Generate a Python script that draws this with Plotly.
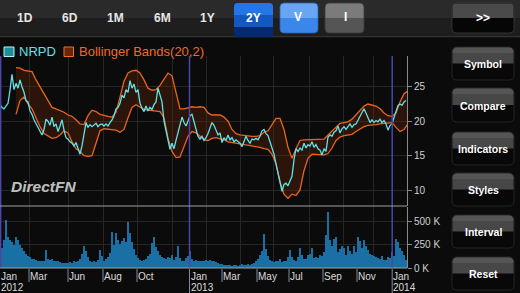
import plotly.graph_objects as go

W, H = 520, 293
FONT = "Liberation Sans, Arial, Helvetica, sans-serif"

# ---------------- data ----------------
# price sampled per trading-step index
PRICE = [
    22.4, 22.0, 21.8, 22.3, 22.6, 24.5, 26.8, 24.6, 25.5, 24.8,
    26.0, 25.0, 24.2, 23.0, 22.8, 21.5, 21.0, 20.2, 19.6, 19.0,
    18.5, 18.0, 18.8, 20.3, 20.0, 19.4, 20.6, 19.2, 19.6, 18.5,
    19.3, 20.2, 18.7, 17.6, 17.4, 17.0, 16.8, 16.4, 16.9, 16.0,
    15.2, 16.4, 18.0, 19.8, 19.1, 19.5, 19.2, 19.5, 19.7, 19.2,
    19.5, 19.6, 19.3, 19.6, 19.3, 19.8, 20.2, 20.8, 21.8, 22.0,
    22.6, 23.8, 23.4, 24.6, 24.2, 25.9, 24.8, 25.4, 24.2, 24.6,
    22.6, 21.9, 21.4, 22.2, 21.5, 22.0, 21.7, 22.4, 22.8, 24.8,
    23.6, 22.8, 20.0, 18.6, 16.8, 15.9, 16.8, 16.0, 17.2, 18.5,
    19.4, 20.6, 19.8, 19.3, 20.0, 20.8, 21.0, 19.8, 18.6, 17.8,
    17.4, 17.8, 17.2, 17.6, 18.2, 19.0, 19.8, 19.4, 18.7, 18.0,
    18.3, 16.9, 17.6, 17.2, 18.0, 17.3, 17.6, 17.0, 17.3, 17.1,
    16.8, 16.3, 17.0, 17.8, 17.2, 16.8, 17.4, 17.3, 17.5, 17.3,
    17.8, 18.6, 18.8, 18.2, 17.9, 17.0, 16.2, 15.2, 13.8, 12.5,
    10.8, 9.8, 10.8, 11.0, 10.6, 11.2, 12.0, 14.4, 16.0, 15.6,
    16.1, 15.8, 16.8, 16.1, 16.6, 16.4, 17.0, 16.2, 16.6, 16.0,
    15.8, 15.1, 16.0, 15.6, 17.7, 18.0, 17.8, 18.4, 18.6, 19.3,
    18.3, 18.9, 19.2, 18.8, 19.3, 19.6, 19.1, 19.5, 19.6, 20.2,
    20.6, 21.2, 21.8, 21.2, 20.6, 19.8, 20.2, 19.8, 20.1, 19.9,
    20.3, 19.8, 20.1, 19.6, 18.7, 19.4, 19.6, 20.5, 21.6, 22.3,
    22.5, 22.3, 22.8, 23.0,
]

# Bollinger bands, one value every second step
UPPER = [
    None, None, None, None, 27.8, 27.7, 27.4, 27.3, 27.2, 26.0,
    25.0, 24.0, 22.8, 22.0, 21.8, 21.6, 21.3, 20.9, 20.7, 20.2,
    19.6, 19.5, 20.8, 21.6, 21.4, 21.0, 20.8, 20.7, 20.6, 21.3,
    23.5, 25.8, 27.0, 27.3, 27.4, 27.0, 26.0, 24.8, 24.5, 24.6,
    25.2, 26.2, 27.0, 26.6, 24.0, 21.8, 21.8, 22.0, 22.1, 22.0,
    22.1, 22.0, 21.2, 20.9, 20.9, 20.9, 20.6, 20.0, 18.8, 18.2,
    18.0, 17.9, 17.9, 17.8, 17.8, 17.9, 18.4, 18.6, 19.5, 20.4,
    20.4, 18.8, 16.2, 14.6, 16.0, 17.2, 17.3, 17.3, 17.3, 17.3,
    17.3, 17.4, 18.0, 18.6, 19.2, 19.7, 19.8, 19.9, 20.3, 20.9,
    21.6, 22.2, 22.5, 22.4, 22.2, 21.8, 21.2, 20.8, 20.7, 21.2,
    22.8, 24.0, 24.4,
]
LOWER = [
    None, None, None, None, 21.0, 23.0, 23.5, 22.5, 21.8, 20.5,
    19.2, 18.2, 17.8, 17.5, 17.6, 18.0, 18.6, 18.3, 17.0, 16.0,
    15.6, 15.0, 14.9, 15.0, 16.8, 18.6, 18.9, 18.8, 18.8, 18.7,
    18.4, 18.8, 20.5, 22.0, 22.4, 22.0, 21.7, 21.6, 21.5, 21.4,
    21.4, 20.5, 17.5, 15.6, 14.7, 14.8, 16.3, 17.8, 18.5, 18.3,
    17.8, 17.3, 17.2, 17.5, 17.6, 17.5, 17.3, 17.0, 16.9, 16.8,
    16.8, 16.6, 16.5, 16.4, 16.3, 16.2, 16.0, 15.9, 15.2, 13.8,
    11.2, 9.4, 8.8, 9.4, 9.2, 10.0, 12.8, 14.6, 15.2, 15.2,
    15.1, 15.1, 15.3, 16.1, 17.2, 17.7, 17.9, 18.0, 18.1, 18.5,
    18.9, 19.2, 19.4, 19.4, 19.5, 19.6, 19.7, 19.8, 19.8, 19.1,
    18.5, 18.8, 19.6,
]

# volume in thousands, one per price step
VOLUME_K = [
    240, 220, 300, 520, 330, 300, 280, 250, 330, 300,
    250, 220, 180, 150, 130, 120, 100, 95, 85, 75,
    70, 75, 80, 190, 100, 85, 95, 75, 70, 80,
    60, 55, 50, 55, 50, 60, 55, 70, 65, 80,
    100, 150, 240, 180, 120, 80, 65, 75, 60, 90,
    190, 130, 80, 100, 120, 160, 390, 250, 380, 300,
    260, 290, 320, 280, 490, 380, 280, 200, 140, 110,
    90, 80, 90, 100, 130, 150, 270, 330, 230, 180,
    140, 120, 110, 100, 120, 110, 140, 90, 120, 240,
    110, 80, 70, 110, 130, 180, 100, 80, 90, 70,
    80, 75, 70, 85, 75, 90, 80, 70, 60, 50,
    45, 40, 35, 30, 35, 30, 25, 30, 28, 25,
    35, 40, 30, 28, 40, 35, 45, 50, 70, 100,
    140, 180, 370, 200, 130, 90, 70, 60, 80, 70,
    95, 60, 75, 80, 120, 190, 120, 90, 70, 120,
    220, 140, 100, 100, 136, 155, 220, 110, 118, 110,
    136, 130, 170, 350, 600, 300, 240, 315, 330, 170,
    200, 240, 210, 140, 240, 180, 155, 240, 170, 330,
    290, 210, 300, 240, 190, 155, 140, 130, 118, 110,
    100, 130, 90, 85, 120, 110, 170, 130, 315, 280,
    220, 180, 136, 90,
]

TICK_MONTHS = ["Jan", "Mar", "Jun", "Aug", "Oct", "Jan", "Mar", "May", "Jul", "Sep", "Nov", "Jan"]
TICK_YEARS = ["2012", "", "", "", "", "2013", "", "", "", "", "", "2014"]
TICK_POS = [0, 14.5, 34, 51.5, 68.5, 94.75, 111, 128.5, 144.5, 161.5, 178.5, 196.1]
GRID_POS = [14.5, 34, 51.5, 68.5, 86, 103, 120, 136.5, 154.5, 171.5, 186.5]
YEAR_LINES = [0.3, 94.75, 196.1]
PRICE_TICKS = [10, 15, 20, 25]
VOL_TICKS = [0, 250, 500]
VOL_TICKTEXT = ["0 K", "250 K", "500 K"]
RANGE_BUTTONS = ["1D", "6D", "1M", "6M", "1Y", "2Y"]
SIDE_BUTTONS = ["Symbol", "Compare", "Indicators", "Styles", "Interval", "Reset"]
LEGEND = ["NRPD", "Bollinger Bands(20,2)"]

# ---------------- helpers ----------------
def px(x):
    return x / W


def py(y):
    return 1 - y / H


shapes, annos = [], []


def rrect(x0, y0, x1, y1, r, fill, line=None, lw=0.8, rt=True, rb=True):
    X0, X1, YT, YB = px(x0), px(x1), py(y0), py(y1)
    rx, ry = r / W, r / H
    f = lambda v: f"{v:.5f}"
    p = []
    if rt:
        p.append(f"M{f(X0+rx)},{f(YT)} L{f(X1-rx)},{f(YT)} Q{f(X1)},{f(YT)} {f(X1)},{f(YT-ry)}")
    else:
        p.append(f"M{f(X0)},{f(YT)} L{f(X1)},{f(YT)}")
    if rb:
        p.append(f"L{f(X1)},{f(YB+ry)} Q{f(X1)},{f(YB)} {f(X1-rx)},{f(YB)} "
                 f"L{f(X0+rx)},{f(YB)} Q{f(X0)},{f(YB)} {f(X0)},{f(YB+ry)}")
    else:
        p.append(f"L{f(X1)},{f(YB)} L{f(X0)},{f(YB)}")
    if rt:
        p.append(f"L{f(X0)},{f(YT-ry)} Q{f(X0)},{f(YT)} {f(X0+rx)},{f(YT)} Z")
    else:
        p.append("Z")
    shapes.append(dict(type="path", xref="paper", yref="paper", path=" ".join(p),
                       fillcolor=fill,
                       line=dict(color=line if line else fill, width=lw if line else 0)))


def rect(x0, y0, x1, y1, fill, line=None, lw=1):
    shapes.append(dict(type="rect", xref="paper", yref="paper",
                       x0=px(x0), x1=px(x1), y0=py(y1), y1=py(y0), fillcolor=fill,
                       line=dict(color=line if line else fill, width=lw if line else 0)))


def text(x, y, s, size, color, xanchor="center", xref="paper", xshift=0):
    annos.append(dict(x=x if xref != "paper" else px(x), y=py(y), xref=xref, yref="paper",
                      text=s, showarrow=False, xanchor=xanchor, yanchor="middle",
                      xshift=xshift, font=dict(family=FONT, size=size, color=color)))


# ---------------- traces ----------------
n = len(PRICE)
steps = list(range(n))
band_x = [2 * j for j in range(len(UPPER)) if UPPER[j] is not None]
up = [v for v in UPPER if v is not None]
lo = [v for v in LOWER if v is not None]

fig = go.Figure()
fig.add_trace(go.Bar(x=list(range(len(VOLUME_K))), y=VOLUME_K, xaxis="x2", yaxis="y2",
                     marker=dict(color="#1a70a4", line=dict(width=0)), width=1.0,
                     hoverinfo="skip"))
fig.add_trace(go.Scatter(x=band_x, y=up, mode="lines",
                         line=dict(color="#e8641e", width=1.3), hoverinfo="skip"))
fig.add_trace(go.Scatter(x=band_x, y=lo, mode="lines", fill="tonexty",
                         fillcolor="rgba(105,42,8,0.34)",
                         line=dict(color="#e8641e", width=1.3), hoverinfo="skip"))
fig.add_trace(go.Scatter(x=steps, y=PRICE, mode="lines",
                         line=dict(color="#5fe2e8", width=1.3), hoverinfo="skip"))

# ---------------- decorations ----------------
# toolbar
rect(0, 0, 520, 37, "#1e1e1e")
rect(0, 0, 520, 18, "#2a2a2a")
rect(0, 36.3, 520, 37.3, "#3a3a3a")
# 2Y tab
rrect(234, 3, 273, 37.3, 4, "#052a6e", rb=False)
rrect(234, 3, 273, 27, 4, "#1257c2", rb=False)
rrect(234, 3, 273, 15, 4, "#2475e6", rb=False)
# V and I toggles
rrect(280, 3, 318, 33, 4, "#3a86ea", line="#2a5fb0")
rrect(280.5, 3.5, 317.5, 18, 4, "#68a5f3", rb=False)
rrect(325, 3, 364, 33, 4, "#555555", line="#3a3a3a")
rrect(325.5, 3.5, 363.5, 18, 4, "#7b7b7b", rb=False)
# >> button
rrect(452, 3, 514, 33, 4, "#060606", line="#3c3c3c")
rrect(452.5, 3.5, 513.5, 18, 4, "#4a4a4a", rb=False)

tb_x = [25, 70, 115, 162, 207, 253]
for lbl, x in zip(RANGE_BUTTONS, tb_x):
    text(x, 18.5, f"<b>{lbl}</b>", 12, "#ffffff" if lbl == "2Y" else "#e6e6e6")
text(298, 17, "<b>V</b>", 12, "#ffffff")
text(345, 17, "<b>I</b>", 12, "#ffffff")
text(483, 18, "<b>&gt;&gt;</b>", 12, "#ffffff")

# side buttons
side_y = [(47, 80), (88, 122), (132, 165), (173, 206), (215, 248), (257, 290)]
for lbl, (y0, y1) in zip(SIDE_BUTTONS, side_y):
    mid = (y0 + y1) / 2
    rrect(452, y0, 514, y1, 5, "#080808", line="#2c2c2c")
    rrect(452.5, y0 + 0.5, 513.5, mid, 5, "#474747", rb=False)
    rrect(452.5, y0 + 0.5, 513.5, y0 + 6, 5, "#555555", rb=False)
    text(483, mid + 0.5, f"<b>{lbl}</b>", 10.5, "#ffffff")

# legend
rect(4, 47, 14, 56.5, "#1d8f98", line="#b0f6f6", lw=1)
text(17, 51.5, LEGEND[0], 13, "#5fe2e8", xanchor="left")
rect(64, 47, 73.5, 56.5, "#6a2508", line="#f07030", lw=1)
text(77, 51.5, LEGEND[1], 13, "#f06a24", xanchor="left")

# watermark
text(43.5, 186.5, "<i><b>DirectFN</b></i>", 15.5, "#3a3a3a")
text(43, 186, "<i><b>DirectFN</b></i>", 15.5, "#bdbdbd")

# year lines (purple)
for xv in YEAR_LINES:
    shapes.append(dict(type="line", xref="x", yref="paper", x0=xv, x1=xv,
                       y0=py(268), y1=py(56), line=dict(color="#4a47a8", width=1.5)))
# pane separators
for yy in (206, 268):
    shapes.append(dict(type="line", xref="paper", yref="paper", x0=0, x1=px(407),
                       y0=py(yy), y1=py(yy), line=dict(color="#a0a0a0", width=1.2)))

# x tick marks and labels
for m, yr, xv in zip(TICK_MONTHS, TICK_YEARS, TICK_POS):
    bottom = 293 if yr else 282
    if xv > 0:
        shapes.append(dict(type="line", xref="x", yref="paper", x0=xv, x1=xv,
                           y0=py(bottom), y1=py(269), line=dict(color="#8a8a8a", width=1)))
    text(xv, 276.5, m, 10, "#dcdcdc", xanchor="left", xref="x", xshift=-1)
    if yr:
        text(xv, 287.0, yr, 10, "#dcdcdc", xanchor="left", xref="x", xshift=-1)

grid = "#262626"
axfont = dict(family=FONT, size=10, color="#cfcfcf")
fig.update_layout(
    width=W, height=H, autosize=False,
    margin=dict(l=0, r=0, t=0, b=0, pad=0, autoexpand=False),
    paper_bgcolor="#0b0b0b", plot_bgcolor="#0b0b0b",
    showlegend=False, bargap=0,
    xaxis=dict(domain=[0, px(407)], range=[0, 203.5], anchor="y",
               tickvals=GRID_POS, showticklabels=False, ticks="",
               showgrid=True, gridcolor=grid, gridwidth=1, zeroline=False,
               showline=False, fixedrange=True, automargin=False),
    xaxis2=dict(domain=[0, px(407)], matches="x", anchor="y2",
                tickvals=GRID_POS, showticklabels=False, ticks="",
                showgrid=True, gridcolor=grid, gridwidth=1, zeroline=False,
                showline=False, fixedrange=True, automargin=False),
    yaxis=dict(domain=[py(206), py(56)], range=[7.674, 29.477], anchor="x",
               side="right", tickvals=PRICE_TICKS, ticks="outside", ticklen=4,
               tickcolor="#8a8a8a", showline=True, linecolor="#8a8a8a", linewidth=1,
               showgrid=True, gridcolor=grid, zeroline=False, tickfont=axfont,
               fixedrange=True, automargin=False),
    yaxis2=dict(domain=[py(268), py(207)], range=[0, 655], anchor="x2",
                side="right", tickvals=VOL_TICKS, ticktext=VOL_TICKTEXT,
                ticks="outside", ticklen=4, tickcolor="#8a8a8a", showline=True,
                linecolor="#8a8a8a", linewidth=1, showgrid=True, gridcolor=grid,
                zeroline=False, tickfont=axfont, fixedrange=True, automargin=False),
    shapes=shapes, annotations=annos,
)

fig.write_html("out.html", config={"displayModeBar": False})
